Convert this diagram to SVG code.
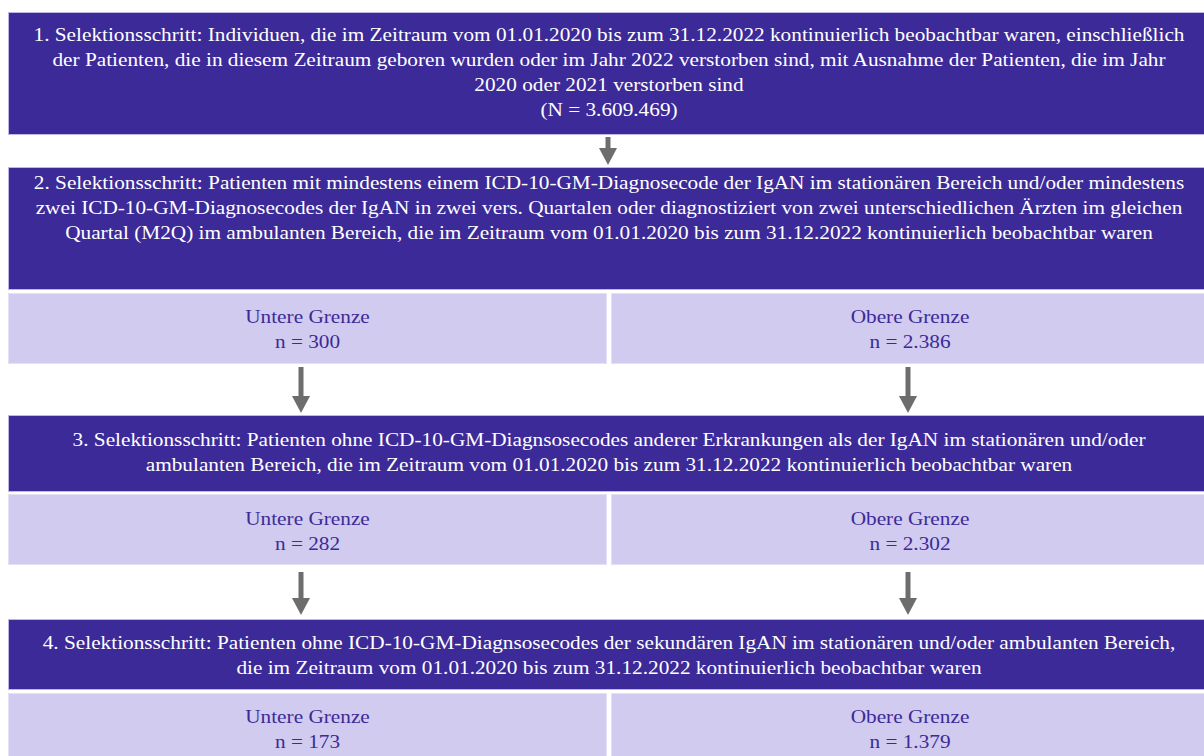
<svg xmlns="http://www.w3.org/2000/svg" width="1204" height="756" viewBox="0 0 1204 756">
  <defs>
    <style>
      .dark { fill: #3c2a98; stroke: #bdb6e8; stroke-width: 1; }
      .light { fill: #d0cbef; stroke: #e4e1f7; stroke-width: 1; }
      .wt { font-family: "Liberation Serif", "Times New Roman", serif; font-size: 19px; fill: #ffffff; text-anchor: middle; }
      .pt { font-family: "Liberation Serif", "Times New Roman", serif; font-size: 19px; fill: #3c2a98; text-anchor: middle; }
      .arrow { stroke: #6d6d6d; stroke-width: 5; fill: none; marker-end: url(#head); }
    </style>
    <marker id="head" markerUnits="userSpaceOnUse" markerWidth="17" markerHeight="18" viewBox="0 0 17 18" refX="0" refY="9" orient="auto">
      <path d="M0,0 L17,9 L0,18 z" fill="#6d6d6d"/>
    </marker>
  </defs>
  <rect x="0" y="0" width="1204" height="756" fill="#ffffff"/>

  <g id="step1">
    <rect class="dark" x="8.5" y="12.5" width="1202" height="122"/>
    <g transform="translate(609 0) scale(1.12 1)">
      <text class="wt" x="0" y="41">1. Selektionsschritt: Individuen, die im Zeitraum vom 01.01.2020 bis zum 31.12.2022 kontinuierlich beobachtbar waren, einschließlich</text>
      <text class="wt" x="0" y="66">der Patienten, die in diesem Zeitraum geboren wurden oder im Jahr 2022 verstorben sind, mit Ausnahme der Patienten, die im Jahr</text>
      <text class="wt" x="0" y="91">2020 oder 2021 verstorben sind</text>
      <text class="wt" x="0" y="116">(N = 3.609.469)</text>
    </g>
  </g>

  <g id="step2">
    <rect class="dark" x="8.5" y="167.5" width="1202" height="122"/>
    <g transform="translate(609 0) scale(1.12 1)">
      <text class="wt" x="0" y="189">2. Selektionsschritt: Patienten mit mindestens einem ICD-10-GM-Diagnosecode der IgAN im stationären Bereich und/oder mindestens</text>
      <text class="wt" x="0" y="214">zwei ICD-10-GM-Diagnosecodes der IgAN in zwei vers. Quartalen oder diagnostiziert von zwei unterschiedlichen Ärzten im gleichen</text>
      <text class="wt" x="0" y="239">Quartal (M2Q) im ambulanten Bereich, die im Zeitraum vom 01.01.2020 bis zum 31.12.2022 kontinuierlich beobachtbar waren</text>
    </g>
  </g>

  <g id="step2-lower">
    <rect class="light" x="8.5" y="293.5" width="598" height="70"/>
    <g transform="translate(307.5 0) scale(1.12 1)">
      <text class="pt" x="0" y="323">Untere Grenze</text>
      <text class="pt" x="0" y="348">n = 300</text>
    </g>
  </g>
  <g id="step2-upper">
    <rect class="light" x="611.5" y="293.5" width="599" height="70"/>
    <g transform="translate(910 0) scale(1.12 1)">
      <text class="pt" x="0" y="323">Obere Grenze</text>
      <text class="pt" x="0" y="348">n = 2.386</text>
    </g>
  </g>

  <g id="step3">
    <rect class="dark" x="8.5" y="415.5" width="1202" height="76"/>
    <g transform="translate(609 0) scale(1.12 1)">
      <text class="wt" x="0" y="446">3. Selektionsschritt: Patienten ohne ICD-10-GM-Diagnsosecodes anderer Erkrankungen als der IgAN im stationären und/oder</text>
      <text class="wt" x="0" y="471">ambulanten Bereich, die im Zeitraum vom 01.01.2020 bis zum 31.12.2022 kontinuierlich beobachtbar waren</text>
    </g>
  </g>

  <g id="step3-lower">
    <rect class="light" x="8.5" y="494.5" width="598" height="70"/>
    <g transform="translate(307.5 0) scale(1.12 1)">
      <text class="pt" x="0" y="525">Untere Grenze</text>
      <text class="pt" x="0" y="550">n = 282</text>
    </g>
  </g>
  <g id="step3-upper">
    <rect class="light" x="611.5" y="494.5" width="599" height="70"/>
    <g transform="translate(910 0) scale(1.12 1)">
      <text class="pt" x="0" y="525">Obere Grenze</text>
      <text class="pt" x="0" y="550">n = 2.302</text>
    </g>
  </g>

  <g id="step4">
    <rect class="dark" x="8.5" y="619.5" width="1202" height="70"/>
    <g transform="translate(609 0) scale(1.12 1)">
      <text class="wt" x="0" y="649">4. Selektionsschritt: Patienten ohne ICD-10-GM-Diagnsosecodes der sekundären IgAN im stationären und/oder ambulanten Bereich,</text>
      <text class="wt" x="0" y="674">die im Zeitraum vom 01.01.2020 bis zum 31.12.2022 kontinuierlich beobachtbar waren</text>
    </g>
  </g>

  <g id="step4-lower">
    <rect class="light" x="8.5" y="693.5" width="598" height="70"/>
    <g transform="translate(307.5 0) scale(1.12 1)">
      <text class="pt" x="0" y="723">Untere Grenze</text>
      <text class="pt" x="0" y="748">n = 173</text>
    </g>
  </g>
  <g id="step4-upper">
    <rect class="light" x="611.5" y="693.5" width="599" height="70"/>
    <g transform="translate(910 0) scale(1.12 1)">
      <text class="pt" x="0" y="723">Obere Grenze</text>
      <text class="pt" x="0" y="748">n = 1.379</text>
    </g>
  </g>

  <g id="connectors">
    <line class="arrow" x1="608" y1="137" x2="608" y2="148"/>
    <line class="arrow" x1="301" y1="367" x2="301" y2="396"/>
    <line class="arrow" x1="908" y1="367" x2="908" y2="396"/>
    <line class="arrow" x1="301" y1="572" x2="301" y2="598"/>
    <line class="arrow" x1="908" y1="572" x2="908" y2="598"/>
  </g>
</svg>
